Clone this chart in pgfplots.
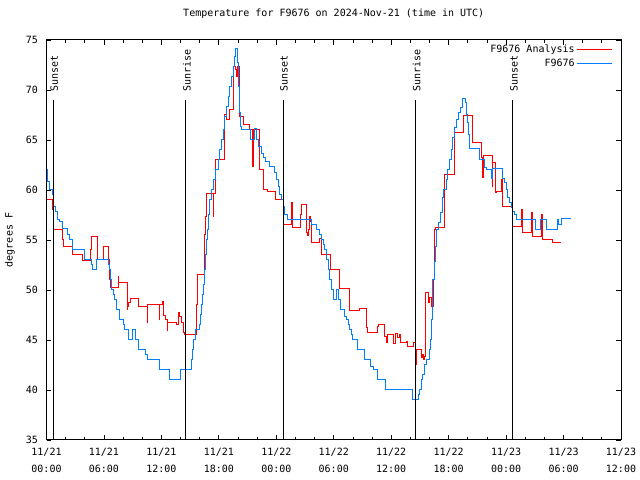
\documentclass[border=0pt]{standalone}
\usepackage{pgfplots}
\pgfplotsset{compat=1.18}
\usepackage{fontspec}
\setmainfont{DejaVu Sans Mono}
\definecolor{obsblue}{RGB}{0,128,255}
\definecolor{anared}{RGB}{255,0,0}
\begin{document}
\begin{tikzpicture}[font=\fontsize{10bp}{12bp}\selectfont]
\path[use as bounding box] (0,0) rectangle (640bp,480bp);
\begin{axis}[
  at={(46.5bp,40bp)}, anchor=south west,
  scale only axis, width=574.5bp, height=400bp,
  xmin=0, xmax=60, ymin=35, ymax=75,
  xtick={0,6,...,60},
  minor xtick={2,4,8,10,14,16,20,22,26,28,32,34,38,40,44,46,50,52,56,58},
  xticklabels={{11/21\\00:00},{11/21\\06:00},{11/21\\12:00},{11/21\\18:00},{11/22\\00:00},{11/22\\06:00},{11/22\\12:00},{11/22\\18:00},{11/23\\00:00},{11/23\\06:00},{11/23\\12:00}},
  ytick={35,40,...,75},
  tick align=inside, major tick length=5bp, minor tick length=3bp,
  axis line style={line width=1bp},
  tick style={black, line width=0.8bp},
  xticklabel style={align=center, yshift=-4.5bp, font=\fontsize{10bp}{17bp}\selectfont},
  yticklabel style={xshift=-5bp},
  /pgf/number format/assume math mode=true,
  title={Temperature for F9676 on 2024-Nov-21 (time in UTC)},
  title style={at={(0.5,1)}, anchor=center, yshift=20bp},
  ylabel={degrees F},
  ylabel style={at={(axis description cs:-0.0635,0.5)}, anchor=center},
  legend plot pos=right,
  legend style={at={(rel axis cs:0.986,0.9925)}, anchor=north east, draw=none, fill=none, inner sep=0pt, row sep=1bp, cells={anchor=east}},
  legend image code/.code={\path (0bp,0bp) -- (7bp,0bp); \draw[#1,line width=1.2bp] (7bp,0.2bp) -- (35bp,0.2bp);},
]
\addplot[const plot, anared, line width=1bp] coordinates {
(0,59)(0.66,58)(0.75,56)(1.69,55)(1.76,54.3)(2.69,53.5)(3.78,52.9)(4.61,54)(4.7,55.3)(5.30,53)(5.93,54.3)(6.45,53)(6.55,52)(6.63,51)(6.73,50.2)(7.49,51.3)(7.55,50.7)(8.43,48)(8.5,48.3)(8.6,48.7)(8.79,49.1)(9.58,48.3)(10.52,46.7)(10.6,48.5)(11.77,47)(11.82,48.5)(12.13,48.8)(12.19,47.6)(12.26,47.4)(12.47,47)(12.61,45.9)(12.68,46.7)(13.59,46.5)(13.75,47.7)(13.93,47.3)(14.11,46.7)(14.28,45.7)(14.45,45.5)(15.67,48.5)(15.74,51.5)(16.54,55.5)(16.62,57.3)(16.72,59.6)(17.41,57.3)(17.48,59.6)(17.69,63)(18.63,67.5)(18.85,67)(19.10,67.2)(19.15,68)(19.55,72.3)(19.77,72)(19.88,71.3)(19.98,72.3)(20.12,71.5)(20.19,67.3)(20.54,66.5)(21.23,66)(21.51,62.3)(21.58,66)(22.28,62)(22.62,60)(23.11,59.8)(23.9,59)(24.71,56.5)(25.59,58.7)(25.66,57.5)(25.73,56.2)(26.56,57.5)(26.63,58.5)(27.15,55.7)(27.25,55.4)(27.38,56)(27.5,57.3)(27.62,56.8)(27.72,54.7)(28.54,55.1)(28.75,53.5)(29.66,52)(30.63,50.1)(31.60,47.9)(32.64,48.1)(33.41,46.2)(33.55,45.7)(34.52,46.3)(34.65,46.5)(35.32,45.3)(35.5,44.7)(35.6,45.5)(36.29,44.6)(36.4,45.6)(36.7,45.2)(36.85,45.5)(37.0,44.7)(37.59,44.8)(37.68,44.3)(38.28,44.7)(38.56,42.5)(38.65,44)(39.15,43.2)(39.28,43.5)(39.42,43)(39.52,43.3)(39.60,49.7)(39.94,48.7)(40.05,49.2)(40.25,48.3)(40.45,51)(40.54,56)(40.65,56.2)(41.58,61.5)(42.56,65.7)(43.57,67.4)(44.47,64.7)(45.41,63.2)(45.51,61.2)(45.6,63.4)(46.56,60.3)(46.63,62.7)(46.9,59.7)(46.98,59.8)(47.5,61)(47.6,58.3)(48.54,58.7)(48.65,56.3)(49.59,58)(49.68,55.7)(50.63,57.7)(50.72,55.3)(51.67,57.5)(51.77,55)(52.82,54.7)(53.69,54.7)
};
\addlegendentry{F9676 Analysis}
\addplot[const plot, obsblue, line width=1bp] coordinates {
(0,62)(0.15,60.8)(0.3,60)(0.62,59.5)(0.7,58.3)(0.95,57.8)(1.13,57)(1.4,56.8)(1.69,56.1)(2.17,55.5)(2.35,55)(2.69,54)(4.02,53)(4.72,52.5)(4.82,52)(5.24,53)(6.45,52.5)(6.6,52)(6.7,51)(6.8,50)(6.97,49.5)(7.15,49)(7.33,48)(7.6,47)(8.01,46.5)(8.19,46)(8.54,45)(9.0,46)(9.31,45)(9.65,44)(10.31,43.5)(10.52,43)(11.77,42)(12.89,41)(14.0,42)(15.15,43)(15.26,44)(15.39,45)(15.6,46)(15.94,46.5)(16.05,47.5)(16.2,48.5)(16.3,49.5)(16.4,50.5)(16.5,52)(16.6,53.5)(16.7,55)(16.78,56)(16.9,57.5)(16.99,59)(17.24,60)(17.41,61)(17.69,62)(17.93,63)(18.10,64)(18.28,65)(18.45,66)(18.63,67.3)(18.80,68.3)(18.97,69.3)(19.15,70.3)(19.33,71.3)(19.49,72.3)(19.67,73.3)(19.77,74.1)(19.91,72.7)(20.01,70.3)(20.12,67.7)(20.26,66.3)(20.37,66)(21.31,65)(21.76,66.1)(21.93,65)(22.1,64.3)(22.45,63.6)(22.62,63.2)(22.91,62.8)(23.32,62.3)(23.77,61.7)(24.02,61)(24.19,60.3)(24.37,59.5)(24.54,59)(24.71,58.3)(24.89,57.5)(25.13,57)(27.67,56.5)(28.20,56)(28.5,55.5)(28.72,55)(28.88,54.5)(29.06,54)(29.24,53)(29.41,52)(29.58,51)(29.76,50)(30.0,49)(30.31,50)(30.47,49)(30.73,48)(31.15,47.3)(31.33,47)(31.49,46.5)(31.67,46)(31.85,45.5)(32.01,45)(32.43,44)(33.24,43)(33.83,42.3)(34.18,42)(34.59,41)(35.43,40)(38.21,39)(38.80,39.5)(38.97,40)(39.15,41)(39.32,41.5)(39.50,42.5)(39.67,43)(39.95,44)(40.09,45)(40.20,47)(40.30,49)(40.36,51)(40.47,52.8)(40.65,54.3)(40.78,56)(40.99,56.7)(41.13,57.7)(41.34,59.2)(41.51,60)(41.76,61)(41.93,62)(42.10,63)(42.28,64)(42.45,65.2)(42.63,66.2)(42.87,67)(43.08,67.7)(43.25,68.2)(43.49,69.1)(43.74,68.7)(43.85,67.5)(43.95,66.7)(44.09,65.5)(44.19,64.1)(45.24,63)(45.76,62.2)(45.94,62)(46.46,61.1)(46.59,62.1)(47.67,61.1)(47.85,60.7)(48.02,60)(48.19,59.2)(48.37,58.7)(48.54,58.2)(48.71,57.8)(48.89,57.5)(49.07,57)(51.08,56)(51.57,57)(52.20,56)(53.41,57)(53.45,56.5)(53.76,57.1)(54.80,57.1)
};
\addlegendentry{F9676}
\addplot[black, line width=1bp, forget plot] coordinates {(0.71,35) (0.71,69)};
\addplot[black, line width=1bp, forget plot] coordinates {(14.56,35) (14.56,69)};
\addplot[black, line width=1bp, forget plot] coordinates {(24.71,35) (24.71,69)};
\addplot[black, line width=1bp, forget plot] coordinates {(38.56,35) (38.56,69)};
\addplot[black, line width=1bp, forget plot] coordinates {(48.71,35) (48.71,69)};
\node[rotate=90, anchor=west, inner sep=0pt] at (axis cs:0.81,69.8) {Sunset};
\node[rotate=90, anchor=west, inner sep=0pt] at (axis cs:14.66,69.8) {Sunrise};
\node[rotate=90, anchor=west, inner sep=0pt] at (axis cs:24.81,69.8) {Sunset};
\node[rotate=90, anchor=west, inner sep=0pt] at (axis cs:38.66,69.8) {Sunrise};
\node[rotate=90, anchor=west, inner sep=0pt] at (axis cs:48.81,69.8) {Sunset};
\end{axis}
\end{tikzpicture}
\end{document}
